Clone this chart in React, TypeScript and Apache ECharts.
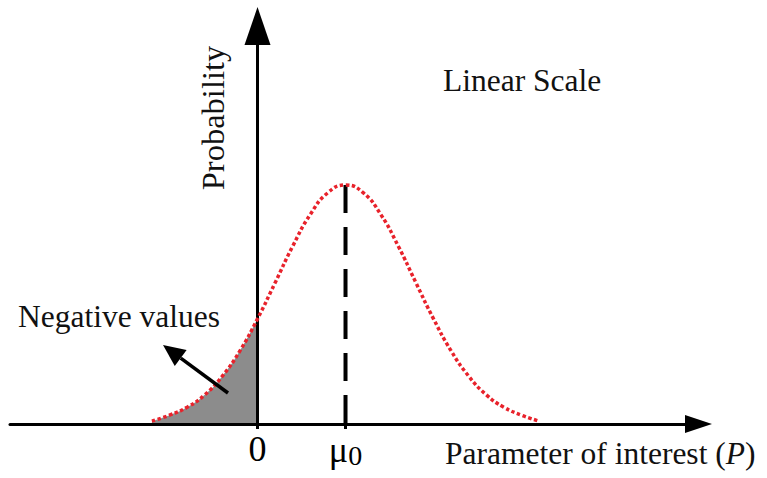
import React, { useEffect, useRef } from "react";
import * as echarts from "echarts";

// Parameter of interest (x, in units where mu0 = 1) and probability (peak = 1)
const paramValues = [-1.2, -1.0, -0.8, -0.6, -0.4, -0.2, 0, 0.2, 0.4, 0.6, 0.8, 1.0, 1.2, 1.4, 1.6, 1.8, 2.0, 2.2, 2.4, 2.6, 2.8, 3.0, 3.2];
const probValues = [0.012, 0.037, 0.07, 0.122, 0.2, 0.306, 0.44, 0.591, 0.744, 0.877, 0.968, 1.0, 0.968, 0.877, 0.744, 0.591, 0.44, 0.306, 0.2, 0.122, 0.07, 0.037, 0.012];
const mu0 = 1;
const tickValues = [0, mu0];
const tickLabels = ["0", "{mu|μ}{sub|0}"];

const SERIF = "'Liberation Serif', 'Times New Roman', 'DejaVu Serif', serif";

export default function App() {
  const ref = useRef<HTMLDivElement>(null);
  useEffect(() => {
    if (!ref.current) return;
    const chart = echarts.init(ref.current, null, { renderer: "svg" });
    const curve = paramValues.map((x, i) => [x, probValues[i]]);
    const negative = curve.filter((p) => p[0] <= 0);
    const tipX = 163, tipY = 345, tailX = 228, tailY = 393;
    const dx = tipX - tailX, dy = tipY - tailY;
    const len = Math.sqrt(dx * dx + dy * dy);
    const ux = dx / len, uy = dy / len;
    const headLen = 22, headHalf = 10;
    const bx = tipX - headLen * ux, by = tipY - headLen * uy;
    const px = -uy, py = ux;
    chart.setOption({
      animation: false,
      backgroundColor: "#ffffff",
      grid: { left: 10, right: 68.5, top: 26, bottom: 54, containLabel: false },
      xAxis: {
        type: "value",
        min: -2.8125,
        max: 5.011,
        z: 3,
        axisLine: {
          onZero: true,
          symbol: ["none", "triangle"],
          symbolSize: [18, 27],
          lineStyle: { color: "#000", width: 3 },
        },
        axisTick: { show: true, customValues: tickValues, length: 5, lineStyle: { color: "#000", width: 3 } },
        axisLabel: {
          show: true,
          customValues: tickValues,
          margin: 7,
          color: "#000",
          fontFamily: SERIF,
          fontSize: 36,
          formatter: (v: number) => tickLabels[tickValues.indexOf(v)] ?? "",
          rich: {
            mu: { fontFamily: SERIF, fontSize: 36, color: "#000" },
            sub: { fontFamily: SERIF, fontSize: 28, color: "#000", verticalAlign: "bottom", padding: [10, 0, 0, 0] },
          },
        },
        splitLine: { show: false },
      },
      yAxis: {
        type: "value",
        min: 0,
        max: 1.6653,
        z: 3,
        axisLine: {
          show: true,
          onZero: true,
          symbol: ["none", "triangle"],
          symbolSize: [26, 38],
          lineStyle: { color: "#000", width: 3 },
        },
        axisTick: { show: false },
        axisLabel: { show: false },
        splitLine: { show: false },
      },
      series: [
        {
          type: "line",
          data: negative,
          smooth: true,
          showSymbol: false,
          z: 1,
          lineStyle: { width: 0 },
          areaStyle: { color: "#8c8c8c", opacity: 1 },
          silent: true,
        },
        {
          type: "line",
          data: [[mu0, 1.0], [mu0, 0]],
          showSymbol: false,
          z: 4,
          lineStyle: { color: "#000", width: 4, type: [28, 14] },
          silent: true,
        },
        {
          type: "line",
          data: curve,
          smooth: true,
          showSymbol: false,
          z: 5,
          lineStyle: { color: "#e8222b", width: 3.5, type: [3.5, 2.5] },
          silent: true,
        },
      ],
      graphic: [
        {
          type: "text",
          z: 10,
          x: 443,
          y: 80,
          style: { text: "Linear Scale", fontFamily: SERIF, fontSize: 31.5, fill: "#111", textVerticalAlign: "middle" },
        },
        {
          type: "text",
          z: 10,
          x: 18,
          y: 316,
          style: { text: "Negative values", fontFamily: SERIF, fontSize: 31.5, fill: "#111", textVerticalAlign: "middle" },
        },
        {
          type: "text",
          z: 10,
          x: 445,
          y: 453,
          style: {
            text: "Parameter of interest ({i|P})",
            fontFamily: SERIF,
            fontSize: 31.5,
            fill: "#111",
            textVerticalAlign: "middle",
            rich: { i: { fontFamily: SERIF, fontSize: 31.5, fontStyle: "italic", fill: "#111" } },
          },
        },
        {
          type: "text",
          z: 10,
          x: 213,
          y: 118,
          rotation: Math.PI / 2,
          style: { text: "Probability", fontFamily: SERIF, fontSize: 32.5, fill: "#111", textAlign: "center", textVerticalAlign: "middle" },
        },
        {
          type: "line",
          z: 10,
          shape: { x1: tailX, y1: tailY, x2: bx, y2: by },
          style: { stroke: "#000", lineWidth: 3.5 },
        },
        {
          type: "polygon",
          z: 10,
          shape: {
            points: [
              [tipX, tipY],
              [bx + headHalf * px, by + headHalf * py],
              [bx - headHalf * px, by - headHalf * py],
            ],
          },
          style: { fill: "#000" },
        },
      ],
    });
    return () => chart.dispose();
  }, []);
  return <div ref={ref} style={{ position: "fixed", left: 0, top: 0, width: 767, height: 478 }} />;
}
